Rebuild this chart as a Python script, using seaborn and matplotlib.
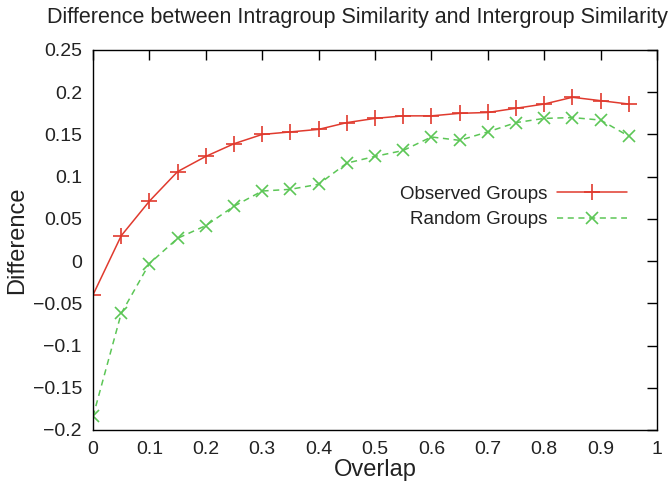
import matplotlib
matplotlib.use("Agg")
import matplotlib.pyplot as plt
import seaborn as sns
import pandas as pd

overlap = [0.0, 0.05, 0.1, 0.15, 0.2, 0.25, 0.3, 0.35, 0.4, 0.45, 0.5,
           0.55, 0.6, 0.65, 0.7, 0.75, 0.8, 0.85, 0.9, 0.95]
observed = [-0.040, 0.030, 0.071, 0.106, 0.124, 0.139, 0.150, 0.153, 0.156, 0.164,
            0.169, 0.172, 0.172, 0.175, 0.176, 0.181, 0.186, 0.194, 0.190, 0.186]
random_g = [-0.184, -0.062, -0.003, 0.027, 0.042, 0.065, 0.083, 0.085, 0.091, 0.116,
            0.124, 0.131, 0.147, 0.143, 0.153, 0.164, 0.169, 0.170, 0.167, 0.148]
xticks = [0, 0.1, 0.2, 0.3, 0.4, 0.5, 0.6, 0.7, 0.8, 0.9, 1]
yticks = [-0.2, -0.15, -0.1, -0.05, 0, 0.05, 0.1, 0.15, 0.2, 0.25]
ytick_labels = ["\u22120.2", "\u22120.15", "\u22120.1", "\u22120.05", "0",
                "0.05", "0.1", "0.15", "0.2", "0.25"]
xtick_labels = ["0", "0.1", "0.2", "0.3", "0.4", "0.5", "0.6", "0.7", "0.8", "0.9", "1"]

sns.set_theme(style="white")
plt.rcParams['font.family'] = ['Liberation Sans', 'DejaVu Sans']

df_obs = pd.DataFrame({"Overlap": overlap, "Difference": observed})
df_rnd = pd.DataFrame({"Overlap": overlap, "Difference": random_g})

fig = plt.figure(figsize=(6.71, 4.84), dpi=100)
ax = fig.add_axes([0.1386, 0.1116, 0.8405, 0.7851])

red = "#e03a2e"
green = "#5cc656"
sns.lineplot(data=df_obs, x="Overlap", y="Difference", ax=ax, color=red,
             marker="+", markersize=11, markeredgewidth=1.2, markeredgecolor=red,
             linewidth=1.1, label="Observed Groups")
sns.lineplot(data=df_rnd, x="Overlap", y="Difference", ax=ax, color=green,
             marker="x", markersize=9, markeredgewidth=1.2, markeredgecolor=green,
             linewidth=1.1, linestyle=(0, (4, 3)), label="Random Groups")

ax.set_xlim(0, 1)
ax.set_ylim(-0.2, 0.25)
ax.set_xticks(xticks)
ax.set_xticklabels(xtick_labels)
ax.set_yticks(yticks)
ax.set_yticklabels(ytick_labels)
ax.tick_params(axis="both", direction="in", length=7, width=1.0, labelsize=14,
               top=True, right=True, color="black", labelcolor="#222222", pad=8)
for s in ax.spines.values():
    s.set_visible(True)
    s.set_color("black")
    s.set_linewidth(1.0)
ax.set_xlabel("Overlap", fontsize=17, labelpad=1, color="#222222")
ax.set_ylabel("Difference", fontsize=17, labelpad=3, color="#222222")
fig.text(0.532, 0.963, "Difference between Intragroup Similarity and Intergroup Similarity",
         ha="center", va="center", fontsize=15.5, color="#222222")

leg = ax.legend(loc="upper right", bbox_to_anchor=(0.976, 0.688), frameon=False,
                markerfirst=False, fontsize=13.5, handlelength=3.7, labelspacing=0.45,
                handletextpad=0.5)
for t in leg.get_texts():
    t.set_ha("right")
    t.set_color("#222222")

fig.savefig("out.png", dpi=100)
